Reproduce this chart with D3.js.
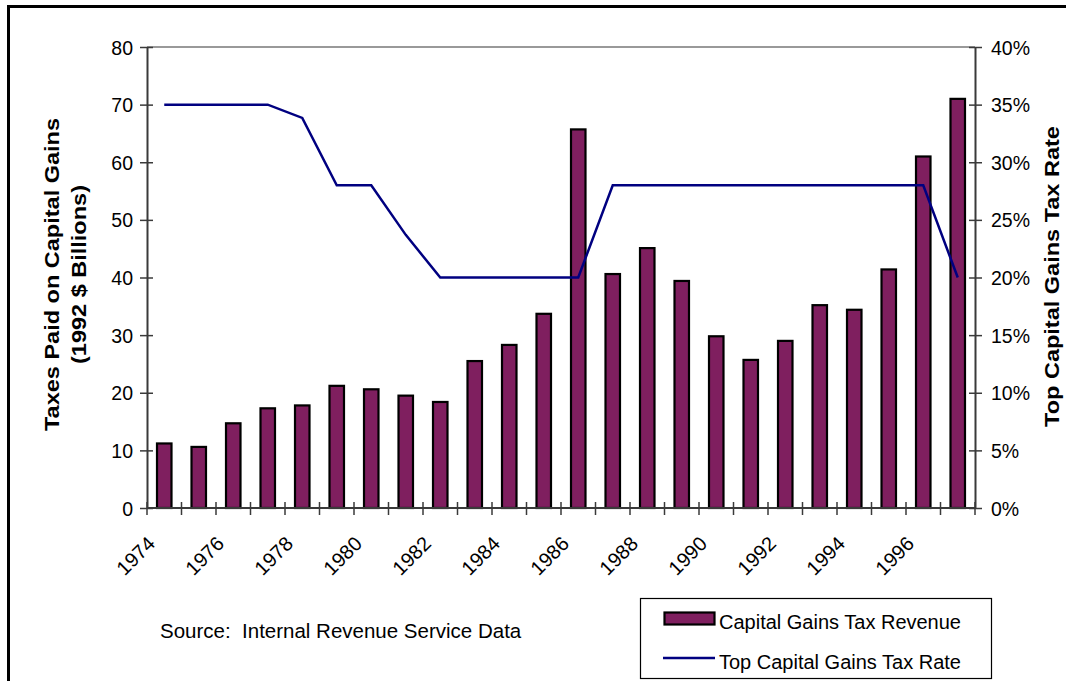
<!DOCTYPE html>
<html>
<head>
<meta charset="utf-8">
<script src="https://cdnjs.cloudflare.com/ajax/libs/d3/7.8.5/d3.min.js"></script>
<style>
  html, body { margin: 0; padding: 0; background: #fff; }
  svg { display: block; font-family: "Liberation Sans", Arial, sans-serif; }
  text { white-space: pre; }
</style>
</head>
<body>
<svg id="chart" width="1066" height="681"></svg>
<script>
// Capital gains tax revenue (1992 $ billions) and top statutory rate, 1974-1997
const years = [1974, 1975, 1976, 1977, 1978, 1979, 1980, 1981, 1982, 1983, 1984, 1985,
               1986, 1987, 1988, 1989, 1990, 1991, 1992, 1993, 1994, 1995, 1996, 1997];
const revenue = [11.2, 10.6, 14.7, 17.3, 17.8, 21.2, 20.6, 19.5, 18.4, 25.5, 28.3, 33.7,
                 65.7, 40.6, 45.1, 39.4, 29.8, 25.7, 29.0, 35.2, 34.4, 41.4, 61.0, 71.0];
const topRate = [0.35, 0.35, 0.35, 0.35, 0.3385, 0.28, 0.28, 0.237, 0.20, 0.20, 0.20, 0.20,
                 0.20, 0.28, 0.28, 0.28, 0.28, 0.28, 0.28, 0.28, 0.28, 0.28, 0.28, 0.20];
const leftTicks = [0, 10, 20, 30, 40, 50, 60, 70, 80];
const rightTicks = [0, 0.05, 0.10, 0.15, 0.20, 0.25, 0.30, 0.35, 0.40];
const labelYears = years.filter((y, i) => i % 2 === 0);

const seriesNames = ["Capital Gains Tax Revenue", "Top Capital Gains Tax Rate"];
const leftTitle = ["Taxes Paid on Capital Gains", "(1992 $ Billions)"];
const rightTitle = "Top Capital Gains Tax Rate";
const sourceNote = "Source:  Internal Revenue Service Data";

const barFill = "#7f1f5f";
const lineColor = "#000080";
const axisColor = "#3a3a3a";

const svg = d3.select("#chart");

// outer frame (runs off the right and bottom edges)
svg.append("rect")
  .attr("x", 8.5).attr("y", 6.5)
  .attr("width", 1100).attr("height", 700)
  .attr("fill", "none").attr("stroke", "#000").attr("stroke-width", 3);

const plot = { left: 147, right: 975, top: 47, bottom: 508 };

const x = d3.scaleBand().domain(years).range([plot.left, plot.right]).paddingInner(0).paddingOuter(0);
const yL = d3.scaleLinear().domain([0, 80]).range([plot.bottom, plot.top]);
const yR = d3.scaleLinear().domain([0, 0.40]).range([plot.bottom, plot.top]);

// top border of the plot area
svg.append("line")
  .attr("x1", plot.left).attr("x2", plot.right)
  .attr("y1", plot.top).attr("y2", plot.top)
  .attr("stroke", "#999").attr("stroke-width", 2);

// bars
const barW = x.bandwidth() * 0.42;
svg.append("g").selectAll("rect")
  .data(years)
  .join("rect")
  .attr("x", (d) => x(d) + x.bandwidth() / 2 - barW / 2)
  .attr("y", (d, i) => yL(revenue[i]))
  .attr("width", barW)
  .attr("height", (d, i) => yL(0) - yL(revenue[i]))
  .attr("fill", barFill)
  .attr("stroke", "#000")
  .attr("stroke-width", 2.2);

// rate line
const line = d3.line()
  .x((d, i) => x(years[i]) + x.bandwidth() / 2)
  .y((d) => yR(d));
svg.append("path")
  .datum(topRate)
  .attr("d", line)
  .attr("fill", "none")
  .attr("stroke", lineColor)
  .attr("stroke-width", 2.5)
  .attr("stroke-linejoin", "miter");

// left axis
const gL = svg.append("g").attr("transform", `translate(${plot.left},0)`)
  .call(d3.axisLeft(yL).tickValues(leftTicks).tickSize(7).tickSizeOuter(0).tickFormat(d3.format("d")));
gL.selectAll(".tick line").attr("x2", -7).attr("x1", 6);
// right axis
const gR = svg.append("g").attr("transform", `translate(${plot.right},0)`)
  .call(d3.axisRight(yR).tickValues(rightTicks).tickSize(7).tickSizeOuter(0).tickFormat(d3.format(".0%")));
gR.selectAll(".tick line").attr("x2", 7).attr("x1", -6);

[gL, gR].forEach((g) => {
  g.select(".domain").attr("stroke", axisColor).attr("stroke-width", 2);
  g.selectAll(".tick line").attr("stroke", axisColor).attr("stroke-width", 1.5);
  g.selectAll(".tick text").attr("fill", "#000").attr("font-size", 19.5)
    .attr("font-family", "Liberation Sans, Arial, sans-serif");
});
gL.selectAll(".tick text").attr("x", -14).attr("dy", "0.36em");
gR.selectAll(".tick text").attr("x", 16).attr("dy", "0.36em");

// bottom axis: ticks between categories, crossing the baseline
const gB = svg.append("g");
gB.append("line")
  .attr("x1", plot.left).attr("x2", plot.right)
  .attr("y1", plot.bottom).attr("y2", plot.bottom)
  .attr("stroke", axisColor).attr("stroke-width", 2);
const boundaries = years.map((d) => x(d)).concat([plot.right]);
gB.selectAll("line.tk")
  .data(boundaries)
  .join("line")
  .attr("class", "tk")
  .attr("x1", (d) => d).attr("x2", (d) => d)
  .attr("y1", plot.bottom - 6).attr("y2", plot.bottom + 7)
  .attr("stroke", axisColor).attr("stroke-width", 1.5);
gB.selectAll("text")
  .data(labelYears)
  .join("text")
  .attr("transform", (d) => `translate(${x(d) + x.bandwidth() / 2 - 8},${plot.bottom + 37}) rotate(-45)`)
  .attr("text-anchor", "end")
  .attr("font-size", 20)
  .attr("fill", "#000")
  .text((d) => d);

// axis titles
const lt = svg.append("text")
  .attr("transform", `translate(59,${(plot.top + plot.bottom) / 2 - 3}) rotate(-90) scale(1.12,1)`)
  .attr("text-anchor", "middle")
  .attr("font-size", 21).attr("font-weight", "bold").attr("fill", "#000");
lt.append("tspan").attr("x", 0).attr("dy", 0).text(leftTitle[0]);
lt.append("tspan").attr("x", 0).attr("dy", 27).text(leftTitle[1]);

svg.append("text")
  .attr("transform", `translate(1059,${(plot.top + plot.bottom) / 2 - 1}) rotate(-90) scale(1.12,1)`)
  .attr("text-anchor", "middle")
  .attr("font-size", 21).attr("font-weight", "bold").attr("fill", "#000")
  .text(rightTitle);

// source note
svg.append("text")
  .attr("x", 160).attr("y", 638)
  .attr("font-size", 20.5).attr("fill", "#000")
  .text(sourceNote);

// legend
const lg = svg.append("g");
lg.append("rect")
  .attr("x", 640.5).attr("y", 598.5).attr("width", 351).attr("height", 80)
  .attr("fill", "#fff").attr("stroke", "#000").attr("stroke-width", 1.2);
lg.append("rect")
  .attr("x", 664.5).attr("y", 612.5).attr("width", 50).attr("height", 12)
  .attr("fill", barFill).attr("stroke", "#000").attr("stroke-width", 2.2);
lg.append("line")
  .attr("x1", 663).attr("x2", 715).attr("y1", 658).attr("y2", 658)
  .attr("stroke", lineColor).attr("stroke-width", 2.5);
lg.selectAll("text.lgt")
  .data(seriesNames)
  .join("text")
  .attr("class", "lgt")
  .attr("x", 719)
  .attr("y", (d, i) => 629 + i * 40)
  .attr("font-size", 20).attr("fill", "#000")
  .text((d) => d);
</script>
</body>
</html>
